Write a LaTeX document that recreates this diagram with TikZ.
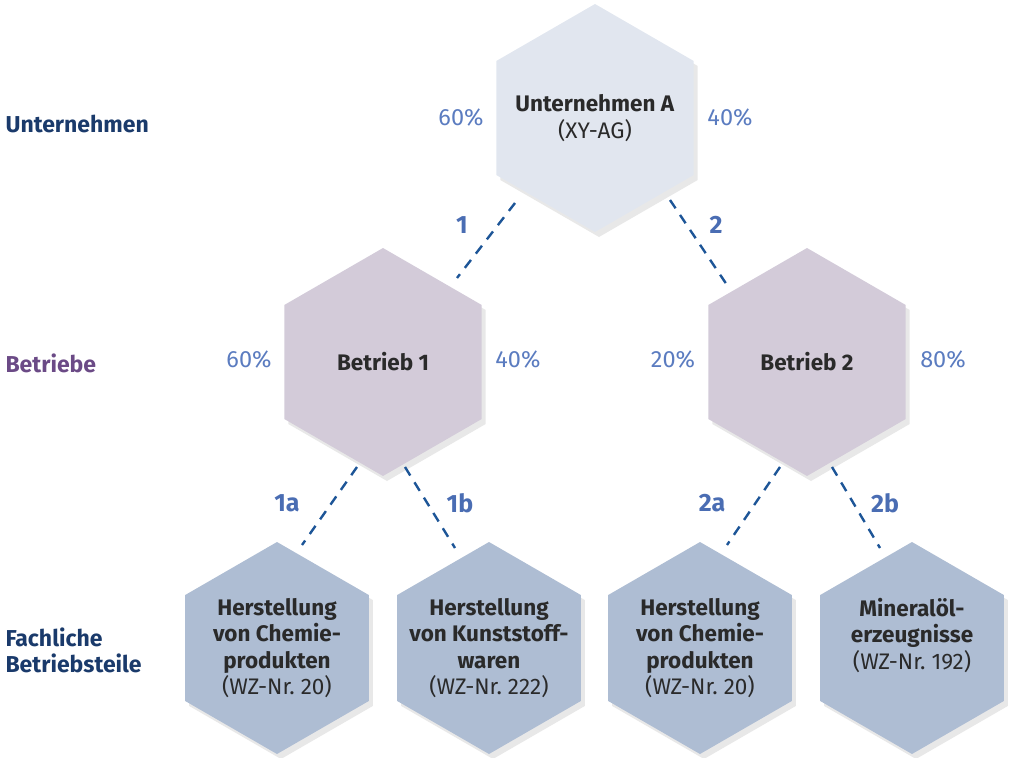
\documentclass[tikz,border=0pt]{standalone}
\usepackage{fontspec}
\setmainfont{Fira Sans}
\usetikzlibrary{shapes.geometric,shadows}

\definecolor{hexTop}{HTML}{E1E6EF}
\definecolor{hexMid}{HTML}{D3CBD9}
\definecolor{hexLow}{HTML}{AEBDD3}
\definecolor{linkBlue}{HTML}{1D5597}
\definecolor{numBlue}{HTML}{4A6DB3}
\definecolor{pctBlue}{HTML}{5B7CC0}
\definecolor{navy}{HTML}{1A3A6B}
\definecolor{lila}{HTML}{6B4A86}
\definecolor{txt}{HTML}{2A2A2A}

\tikzset{
  hexbox/.style={regular polygon, regular polygon sides=6, shape border rotate=30,
    inner sep=0pt,
    drop shadow={opacity=0.18, shadow xshift=4pt, shadow yshift=-5pt}},
  hexlabel/.style={align=center, text=txt, inner sep=0pt,
    font=\fontsize{22.5}{26.5}\selectfont},
  link/.style={linkBlue, line width=2.4pt, dash pattern=on 10pt off 8pt},
  nr/.style={text=numBlue, font=\fontsize{25}{28}\selectfont\bfseries},
  pct/.style={text=pctBlue, font=\fontsize{23.5}{26}\selectfont},
  level/.style={anchor=west, align=left, font=\fontsize{23}{26}\selectfont\bfseries}
}

\begin{document}
\begin{tikzpicture}[x=1pt, y=-1pt]
\useasboundingbox (0,0) rectangle (1011,757);

    % Ebenen
    \node[level, text=navy] (lvA) at (2,124) {Unternehmen};
    \node[level, text=lila] (lvB) at (2,363) {Betriebe};
    \node[level, text=navy] (lvC) at (2,650) {Fachliche\\Betriebsteile};

    % Unternehmen
    \node[hexbox, fill=hexTop, minimum size=228pt] (top) at (595,118) {};
    \node[hexlabel] (topT) at (top) {\textbf{Unternehmen A}\\(XY-AG)};

    % Betriebe
    \node[hexbox, fill=hexMid, minimum size=228pt] (b1) at (383,362) {};
    \node[hexbox, fill=hexMid, minimum size=228pt] (b2) at (807,362) {};
    \node[hexlabel] (b1T) at (b1) {\textbf{Betrieb 1}};
    \node[hexlabel] (b2T) at (b2) {\textbf{Betrieb 2}};

    % fachliche Betriebsteile
    \node[hexbox, fill=hexLow, minimum size=212pt] (c1) at (277,648) {};
    \node[hexbox, fill=hexLow, minimum size=212pt] (c2) at (489,648) {};
    \node[hexbox, fill=hexLow, minimum size=212pt] (c3) at (700,648) {};
    \node[hexbox, fill=hexLow, minimum size=212pt] (c4) at (912,648) {};
    \node[hexlabel] (c1T) at (c1)
        {\textbf{Herstellung}\\\textbf{von Chemie-}\\\textbf{produkten}\\(WZ-Nr.\ 20)};
    \node[hexlabel] (c2T) at (c2)
        {\textbf{Herstellung}\\\textbf{von Kunststoff-}\\\textbf{waren}\\(WZ-Nr.\ 222)};
    \node[hexlabel] (c3T) at (c3)
        {\textbf{Herstellung}\\\textbf{von Chemie-}\\\textbf{produkten}\\(WZ-Nr.\ 20)};
    \node[hexlabel] (c4T) at ([yshift=13pt]c4.center)
        {\textbf{Mineralöl-}\\\textbf{erzeugnisse}\\(WZ-Nr.\ 192)};

    % Anteile
    \node[pct] (p0l) at (461,118) {60\%};
    \node[pct] (p0r) at (730,118) {40\%};
    \node[pct] (p1l) at (249,360) {60\%};
    \node[pct] (p1r) at (518,360) {40\%};
    \node[pct] (p2l) at (673,360) {20\%};
    \node[pct] (p2r) at (943,360) {80\%};

    % Verbindungen
    \draw[link] ([shift={(-80,85)}]top.center) -- ([shift={(74,-84)}]b1.center);
    \draw[link] ([shift={(75,82)}]top.center) -- ([shift={(-80,-77)}]b2.center);
    \draw[link] ([shift={(-26,105)}]b1.center) -- ([shift={(25,-103)}]c1.center);
    \draw[link] ([shift={(22,105)}]b1.center) -- ([shift={(-34,-100)}]c2.center);
    \draw[link] ([shift={(-27,105)}]b2.center) -- ([shift={(27,-103)}]c3.center);
    \draw[link] ([shift={(25,105)}]b2.center) -- ([shift={(-32,-100)}]c4.center);

    \node[nr] (n1) at (462,225) {1};
    \node[nr] (n2) at (716,225) {2};
    \node[nr] (n1a) at (287,503) {1a};
    \node[nr] (n1b) at (460,503) {1b};
    \node[nr] (n2a) at (712,503) {2a};
    \node[nr] (n2b) at (885,503) {2b};

\end{tikzpicture}
\end{document}
